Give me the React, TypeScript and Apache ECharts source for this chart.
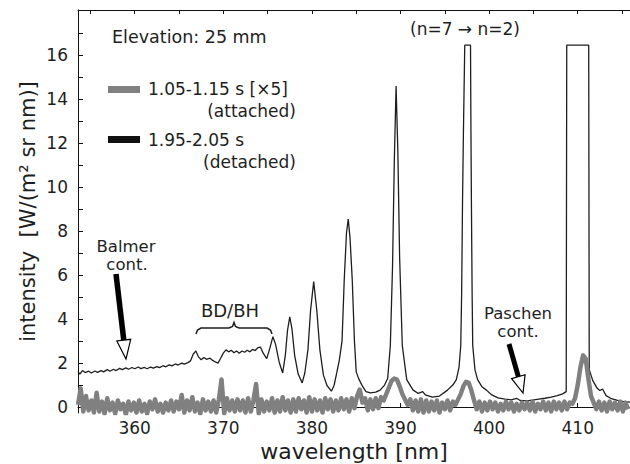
import React, { useEffect, useRef } from "react";
import * as echarts from "echarts";

// Detached phase (1.95-2.05 s): [wavelength nm, intensity W/(m^2 sr nm)]
const detached: [number, number][] = [
  [353.6, 1.62], [353.8, 1.5], [354.1, 1.66], [354.4, 1.57], [354.8, 1.63], [355.1, 1.55], [355.5, 1.64],
  [355.8, 1.58], [356.2, 1.66], [356.5, 1.6], [356.9, 1.7], [357.2, 1.63], [357.6, 1.72], [357.9, 1.66],
  [358.3, 1.76], [358.6, 1.7], [359.0, 1.78], [359.3, 1.72], [359.7, 1.8], [360.0, 1.74], [360.4, 1.82],
  [360.7, 1.75], [361.1, 1.8], [361.4, 1.74], [361.8, 1.82], [362.1, 1.77], [362.5, 1.84], [362.8, 1.79],
  [363.2, 1.88], [363.5, 1.83], [363.9, 1.92], [364.2, 1.87], [364.6, 1.96], [364.9, 1.91], [365.3, 2.0],
  [365.6, 1.95], [366.0, 2.02], [366.3, 2.1], [366.6, 2.4], [366.9, 2.55], [367.2, 2.28], [367.5, 2.15],
  [367.8, 2.25], [368.1, 2.17], [368.5, 2.22], [368.8, 2.12], [369.1, 2.05], [369.4, 2.0], [369.7, 2.22],
  [370.0, 2.45], [370.3, 2.6], [370.6, 2.51], [370.9, 2.58], [371.2, 2.47], [371.5, 2.55], [371.8, 2.45],
  [372.1, 2.55], [372.4, 2.49], [372.7, 2.58], [373.0, 2.51], [373.3, 2.62], [373.6, 2.57], [373.9, 2.7],
  [374.2, 2.72], [374.5, 2.45], [374.9, 2.2], [375.2, 2.6], [375.6, 3.2], [375.9, 2.85], [376.3, 2.05],
  [376.7, 1.55], [377.0, 2.35], [377.25, 3.5], [377.5, 4.1], [377.75, 3.55], [378.05, 2.35], [378.45, 1.5],
  [378.9, 1.1], [379.2, 1.55], [379.55, 2.6], [379.85, 4.4], [380.2, 5.7], [380.55, 4.4], [380.9, 2.6],
  [381.3, 1.45], [381.7, 0.98], [382.2, 0.72], [382.5, 0.98], [382.8, 1.55], [383.1, 2.15], [383.4, 3.0],
  [383.65, 5.8], [383.9, 7.9], [384.1, 8.55], [384.3, 7.7], [384.55, 5.8], [384.8, 3.0], [385.0, 1.6],
  [385.3, 1.27], [385.7, 0.95], [386.1, 0.7], [386.6, 0.64], [387.2, 0.68], [387.7, 0.77], [388.2, 1.0],
  [388.55, 1.3], [388.85, 2.8], [389.1, 6.4], [389.3, 11.2], [389.5, 14.6], [389.7, 11.6], [389.9, 6.8],
  [390.2, 2.8], [390.7, 1.25], [391.4, 0.78], [392.0, 0.62], [392.5, 0.7], [392.8, 0.55], [393.6, 0.45],
  [394.4, 0.5], [395.3, 0.77], [395.9, 1.0], [396.3, 1.25], [396.6, 1.8], [396.8, 2.8], [396.9, 5.2],
  [397.0, 9.4], [397.1, 12.5], [397.25, 16.45], [397.9, 16.45], [397.95, 12.5], [398.0, 9.4], [398.08, 5.2],
  [398.15, 2.8], [398.4, 1.7], [398.7, 1.25], [399.2, 0.92], [399.7, 0.77], [400.3, 0.55], [401.0, 0.42],
  [401.8, 0.36], [402.5, 0.33], [403.1, 0.4], [403.5, 0.3], [404.2, 0.28], [404.9, 0.32], [405.6, 0.36],
  [406.3, 0.4], [407.0, 0.45], [407.7, 0.52], [408.3, 0.6], [408.7, 0.7], [408.76, 16.45], [411.24, 16.45],
  [411.3, 1.7], [411.7, 1.2], [412.2, 0.85], [412.5, 0.75], [412.8, 0.82], [413.2, 0.52], [413.8, 0.38],
  [414.5, 0.3], [415.2, 0.25], [415.9, 0.22],
];

// Attached phase (1.05-1.15 s, multiplied by 5), sampled every 0.3 nm from 353.6 nm
const attachedStart = 353.6;
const attachedStep = 0.3;
const attachedX5: number[] = [
  0.1, 0.85, -0.2, 0.5, -0.15, 0.3, -0.25, 0.65, -0.2, 0.25, -0.3, 0.4,
  -0.15, 0.2, -0.3, 0.3, -0.1, 0.15, -0.35, 0.25, -0.15, 0.2, -0.25, 0.3,
  -0.2, 0.15, -0.3, 0.25, -0.1, 0.35, -0.2, 0.15, -0.25, 0.2, -0.15, 0.3,
  -0.2, 0.25, -0.1, 0.55, -0.25, 0.3, -0.15, 0.45, -0.2, 0.2, -0.3, 0.35,
  -0.15, 0.25, -0.2, 0.3, -0.25, 0.35, 1.25, -0.3, 0.4, -0.15, 0.3, -0.2,
  0.35, -0.15, 0.3, -0.25, 0.4, -0.2, 0.3, 1.05, -0.3, 0.35, -0.2, 0.25,
  -0.15, 0.4, -0.25, 0.3, -0.2, 0.45, -0.15, 0.3, -0.25, 0.35, -0.2, 0.4,
  -0.1, 0.3, -0.25, 0.45, -0.2, 0.35, -0.15, 0.3, -0.25, 0.4, -0.1, 0.35,
  -0.2, 0.3, -0.15, 0.4, -0.1, 0.35, -0.2, 0.4, -0.05, 0.5, 0.8, 0.2,
  0.4, -0.15, 0.35, -0.1, 0.4, -0.05, 0.45, 0.3, 0.6, 0.9, 1.2, 1.3,
  1.25, 0.95, 0.6, 0.35, 0.1, 0.35, -0.15, 0.3, -0.2, 0.35, -0.25, 0.3,
  -0.2, 0.25, -0.15, 0.3, -0.25, 0.2, -0.1, 0.3, -0.15, 0.25, 0.1, 0.35,
  0.6, 0.95, 1.15, 1.1, 0.75, 0.3, -0.1, 0.25, -0.2, 0.2, -0.15, 0.25,
  -0.1, 0.2, -0.2, 0.15, -0.15, 0.25, -0.1, 0.2, -0.2, 0.15, -0.15, 0.2,
  -0.1, 0.2, -0.15, 0.25, -0.2, 0.15, -0.1, 0.25, -0.15, 0.2, -0.2, 0.25,
  -0.1, 0.2, -0.15, 0.25, -0.1, 0.2, 0.15, 0.4, 1.0, 1.8, 2.35, 2.2,
  1.3, 0.5, 0.2, -0.1, 0.25, -0.15, 0.2, -0.2, 0.25, -0.1, 0.2, -0.15,
  0.25, -0.2, 0.2, -0.1,
];

const xMin = 353.6;
const xMax = 415.9;
const yMin = -0.27;
const yMax = 18.05;
const xLabelValues = [360, 370, 380, 390, 400, 410];
const xTickValues = [355, 360, 365, 370, 375, 380, 385, 390, 395, 400, 405, 410, 415];
const yLabelValues = [0, 2, 4, 6, 8, 10, 12, 14, 16];
const yTickValues = [0, 1, 2, 3, 4, 5, 6, 7, 8, 9, 10, 11, 12, 13, 14, 15, 16, 17];

const FONT = '"DejaVu Sans", "Liberation Sans", Arial, sans-serif';
const INK = "#1e1e1e";
const GREY = "#808080";

type Pt = [number, number];

// Black shaft with an open (white) triangular head, from tail to tip
function arrowElements(tail: Pt, tip: Pt, shaftW: number, headL: number, headHW: number) {
  const dx = tip[0] - tail[0];
  const dy = tip[1] - tail[1];
  const len = Math.hypot(dx, dy);
  const ux = dx / len;
  const uy = dy / len;
  const px = -uy;
  const py = ux;
  const bx = tip[0] - ux * headL;
  const by = tip[1] - uy * headL;
  const hw = shaftW / 2;
  return [
    {
      type: "polygon",
      shape: {
        points: [
          [tail[0] + px * hw, tail[1] + py * hw],
          [bx + px * hw + ux, by + py * hw + uy],
          [bx - px * hw + ux, by - py * hw + uy],
          [tail[0] - px * hw, tail[1] - py * hw],
        ],
      },
      style: { fill: "#000" },
    },
    {
      type: "polygon",
      shape: {
        points: [
          [bx + px * headHW, by + py * headHW],
          [tip[0], tip[1]],
          [bx - px * headHW, by - py * headHW],
        ],
      },
      style: { fill: "#fff", stroke: "#000", lineWidth: 1.2, lineJoin: "miter" },
    },
  ];
}

function label(text: string, x: number, y: number, align: string, size = 17) {
  return {
    type: "text",
    style: {
      text,
      x,
      y,
      font: `${size}px ${FONT}`,
      fill: INK,
      textAlign: align,
      textVerticalAlign: "middle",
    },
  };
}

export default function App() {
  const ref = useRef<HTMLDivElement>(null);

  useEffect(() => {
    if (!ref.current) return;
    const chart = echarts.init(ref.current, null, { renderer: "svg" });

    const attachedData = attachedX5.map((v, i) => [
      Math.round((attachedStart + i * attachedStep) * 100) / 100,
      v,
    ]);

    const axisText = { fontFamily: FONT, fontSize: 17, color: INK };

    chart.setOption({
      animation: false,
      backgroundColor: "#fff",
      grid: { left: 78, right: 0, top: 10, bottom: 51, outerBoundsMode: "none" },
      xAxis: [
        {
          type: "value",
          min: xMin,
          max: xMax,
          position: "bottom",
          axisLine: { onZero: true, lineStyle: { color: "#111", width: 1 } },
          axisTick: { show: true, inside: true, length: 4, customValues: xTickValues, lineStyle: { color: "#111" } },
          axisLabel: { customValues: xLabelValues, margin: 6, ...axisText },
          splitLine: { show: false },
          name: "wavelength [nm]",
          nameLocation: "middle",
          nameGap: 27,
          nameMoveOverlap: false,
          nameTextStyle: { fontFamily: FONT, fontSize: 22, color: INK },
        },
        {
          type: "value",
          min: xMin,
          max: xMax,
          position: "top",
          axisLine: { onZero: false, lineStyle: { color: "#111", width: 1 } },
          axisTick: { show: true, inside: true, length: 4, customValues: xTickValues, lineStyle: { color: "#111" } },
          axisLabel: { show: false },
          splitLine: { show: false },
        },
      ],
      yAxis: {
        type: "value",
        min: yMin,
        max: yMax,
        axisLine: { show: true, onZero: false, lineStyle: { color: "#111", width: 1 } },
        axisTick: { show: true, inside: true, length: 5, customValues: yTickValues, lineStyle: { color: "#111" } },
        axisLabel: { customValues: yLabelValues, margin: 10, ...axisText },
        splitLine: { show: false },
        name: "intensity  [W/(m² sr nm)]",
        nameLocation: "middle",
        nameGap: 40,
        nameMoveOverlap: false,
        nameRotate: 90,
        nameTextStyle: { fontFamily: FONT, fontSize: 21, color: INK },
      },
      series: [
        {
          name: "1.95-2.05 s (detached)",
          type: "line",
          data: detached,
          showSymbol: false,
          lineStyle: { color: INK, width: 1.3 },
          z: 2,
        },
        {
          name: "1.05-1.15 s [×5] (attached)",
          type: "line",
          data: attachedData,
          showSymbol: false,
          lineStyle: { color: GREY, width: 4.5, join: "round" },
          z: 3,
        },
      ],
      graphic: [
        label("Elevation: 25 mm", 112, 37, "left", 17.5),
        { type: "rect", shape: { x: 108, y: 86, width: 32, height: 7 }, style: { fill: GREY } },
        label("1.05-1.15 s [×5]", 148, 89, "left"),
        label("(attached)", 296, 111, "right"),
        { type: "rect", shape: { x: 108, y: 136, width: 32, height: 7 }, style: { fill: "#111" } },
        label("1.95-2.05 s", 148, 140, "left"),
        label("(detached)", 296, 162, "right"),
        label("(n=7 → n=2)", 465, 29, "center"),
        label("Balmer", 126, 246.5, "center", 16.5),
        label("cont.", 127, 264.5, "center", 16.5),
        ...arrowElements([116, 274], [126, 359], 5.5, 19, 7),
        label("BD/BH", 230, 310, "center", 18),
        {
          type: "polyline",
          shape: {
            points: [
              [196, 334], [197.5, 330], [201, 328], [229, 328], [232.5, 326.5], [234, 322.5],
              [235.5, 326.5], [239, 328], [267, 328], [270.5, 330], [272, 334],
            ],
          },
          style: { stroke: INK, lineWidth: 1.5, fill: null },
        },
        label("Paschen", 518, 313.5, "center", 16.5),
        label("cont.", 518, 331.5, "center", 16.5),
        ...arrowElements([509, 344], [523, 393], 5, 17, 7),
      ],
    });

    return () => chart.dispose();
  }, []);

  return (
    <div
      ref={ref}
      style={{ position: "fixed", left: 0, top: 0, width: 630, height: 464, background: "#fff" }}
    />
  );
}
